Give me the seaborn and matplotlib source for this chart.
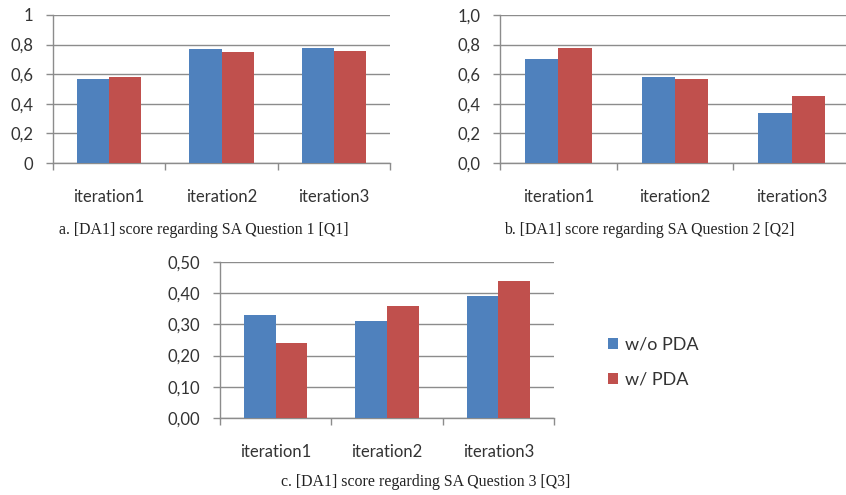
import pandas as pd
import seaborn as sns
import matplotlib.pyplot as plt

# values
iterations = ["iteration1", "iteration2", "iteration3"]
groups = ["w/o PDA", "w/ PDA"]

q1_wo = [0.57, 0.77, 0.78]
q1_w = [0.58, 0.75, 0.76]
q2_wo = [0.70, 0.58, 0.34]
q2_w = [0.78, 0.57, 0.45]
q3_wo = [0.33, 0.31, 0.39]
q3_w = [0.24, 0.36, 0.44]

q1_ticks = [0, 0.2, 0.4, 0.6, 0.8, 1.0]
q1_ticklabels = ["0", "0,2", "0,4", "0,6", "0,8", "1"]
q2_ticks = [0, 0.2, 0.4, 0.6, 0.8, 1.0]
q2_ticklabels = ["0,0", "0,2", "0,4", "0,6", "0,8", "1,0"]
q3_ticks = [0, 0.1, 0.2, 0.3, 0.4, 0.5]
q3_ticklabels = ["0,00", "0,10", "0,20", "0,30", "0,40", "0,50"]

captions = ["a. [DA1] score regarding SA Question 1 [Q1]",
            "b. [DA1] score regarding SA Question 2 [Q2]",
            "c. [DA1] score regarding SA Question 3 [Q3]"]

colors = ["#4F81BD", "#C0504D"]


def make_df(wo, w):
    return pd.DataFrame({
        "iteration": iterations * 2,
        "group": [groups[0]] * 3 + [groups[1]] * 3,
        "score": wo + w,
    })


sns.set_style("white")
plt.rcParams['font.family'] = ['Lato', 'DejaVu Sans']

fig = plt.figure(figsize=(8.46, 4.95), dpi=100)
ax_a = fig.add_axes([53 / 846, 0.6707, 337 / 846, 0.299])
ax_b = fig.add_axes([500 / 846, 0.6707, 350 / 846, 0.299])
ax_c = fig.add_axes([220 / 846, 0.1556, 334 / 846, 0.315])

panels = [
    (ax_a, q1_wo, q1_w, q1_ticks, q1_ticklabels),
    (ax_b, q2_wo, q2_w, q2_ticks, q2_ticklabels),
    (ax_c, q3_wo, q3_w, q3_ticks, q3_ticklabels),
]

for ax, wo, w, ticks, labels in panels:
    df = make_df(wo, w)
    sns.barplot(data=df, x="iteration", y="score", hue="group",
                palette=colors, width=0.57, saturation=1, ax=ax,
                linewidth=0, legend=(ax is ax_c), zorder=3)
    ax.set_xlim(-0.5, 2.5)
    ax.set_ylim(ticks[0], ticks[-1])
    ax.set_yticks(ticks)
    ax.set_yticklabels(labels)
    ax.set_xticks([-0.5, 0.5, 1.5, 2.5])
    ax.set_xticklabels([])
    ax.set_xticks([0, 1, 2], minor=True)
    ax.set_xticklabels(iterations, minor=True)
    ax.tick_params(axis="x", which="major", length=5, width=1, color="#8c8c8c", direction="out", bottom=True)
    ax.tick_params(axis="x", which="minor", length=0, pad=19, labelsize=12, labelcolor="#333333")
    ax.tick_params(axis="y", length=5, width=1, color="#8c8c8c", direction="out", left=True,
                   pad=9, labelsize=12, labelcolor="#333333")
    ax.grid(axis="y", color="#8c8c8c", linewidth=1, zorder=0)
    ax.set_axisbelow(True)
    for side in ["top", "right"]:
        ax.spines[side].set_visible(False)
    for side in ["left", "bottom"]:
        ax.spines[side].set_color("#8c8c8c")
        ax.spines[side].set_linewidth(1)
    ax.set_xlabel("")
    ax.set_ylabel("")

handles, lbls = ax_c.get_legend_handles_labels()
ax_c.legend_.remove()
fig.legend(handles, lbls, loc="center left", bbox_to_anchor=(0.700, 0.268),
           frameon=False, fontsize=13, handlelength=0.55, handleheight=0.55,
           handletextpad=0.35, labelspacing=1.05, labelcolor="#333333")

cap_font = dict(family="Liberation Serif", fontsize=11.4, color="#222222", ha="center", va="center")
fig.text(204 / 846, 1 - 230 / 495, captions[0], **cap_font)
fig.text(649 / 846, 1 - 230 / 495, captions[1], **cap_font)
fig.text(426 / 846, 1 - 482 / 495, captions[2], **cap_font)

plt.savefig("out.png", dpi=100)
plt.close()
